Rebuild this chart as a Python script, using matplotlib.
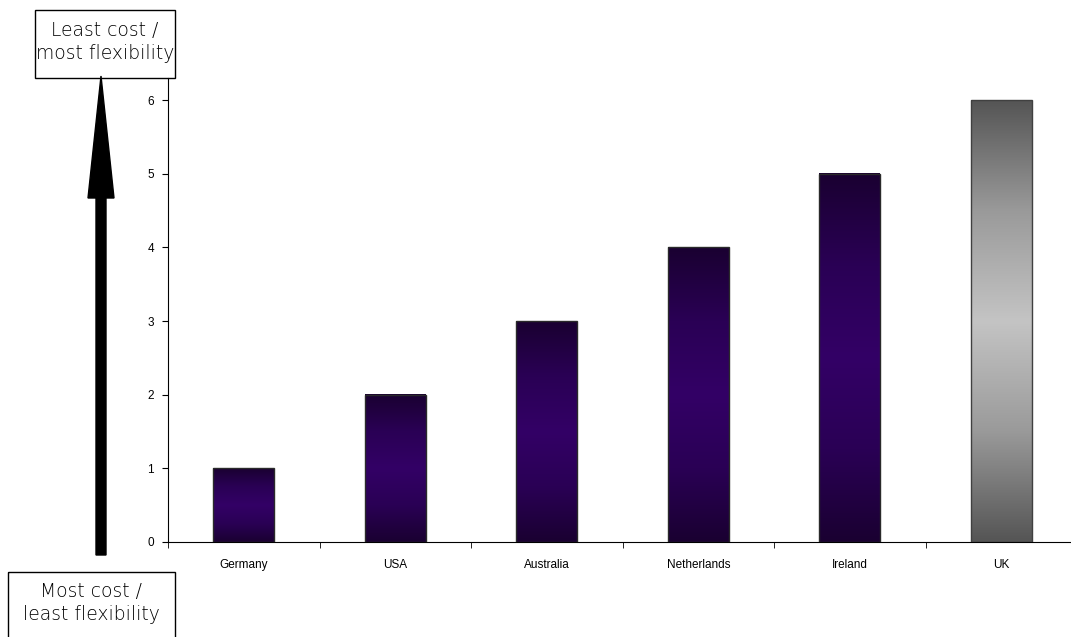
import numpy as np
import matplotlib
matplotlib.use("Agg")
import matplotlib.pyplot as plt
from matplotlib.colors import LinearSegmentedColormap
from matplotlib.patches import Rectangle, Polygon

countries = ["Germany", "USA", "Australia", "Netherlands", "Ireland", "UK"]
scores = [1, 2, 3, 4, 5, 6]
highlight = "UK"
top_label = "Least cost /\nmost flexibility"
bottom_label = "Most cost /\nleast flexibility"

W, H = 1071, 637
fig = plt.figure(figsize=(W / 100, H / 100), dpi=100)
fig.patch.set_facecolor("white")

ax = fig.add_axes([168 / W, (H - 542) / H, (1077 - 168) / W, (542 - 78) / H])
x = np.arange(len(countries))
bars = ax.bar(x, scores, width=0.4, color="none", edgecolor="none", zorder=2)

purple = LinearSegmentedColormap.from_list("p", ["#1a0031", "#2a0055", "#330066", "#2a0055", "#1a0031"])
grey = LinearSegmentedColormap.from_list("g", ["#555555", "#9a9a9a", "#c4c4c4", "#9a9a9a", "#555555"])
grad = np.linspace(0, 1, 256).reshape(-1, 1)

for name, b in zip(countries, bars):
    x0, y0 = b.get_x(), b.get_y()
    w, h = b.get_width(), b.get_height()
    cmap = grey if name == highlight else purple
    ax.imshow(grad, cmap=cmap, aspect="auto", extent=[x0, x0 + w, y0, y0 + h],
              origin="upper", zorder=2, interpolation="bilinear")
    ax.add_patch(Rectangle((x0, y0), w, h, fill=False,
                           edgecolor="#404040" if name == highlight else "#2a2a2a",
                           lw=1.0, zorder=3))

ax.set_xlim(-0.5, len(countries) - 0.5)
ax.set_ylim(0, 6.3)
ax.set_yticks(range(0, 7))
ax.set_xticks(x)
ax.set_xticklabels(countries)
ax.set_xticks(np.arange(-0.5, len(countries), 1.0), minor=True)
ax.tick_params(axis="x", which="major", length=0, pad=12, labelsize=8.5)
ax.tick_params(axis="x", which="minor", length=4, direction="out", color="black")
ax.tick_params(axis="y", length=4, direction="out", labelsize=8.5, pad=6)
for lab in ax.get_xticklabels() + ax.get_yticklabels():
    lab.set_fontfamily("Liberation Sans")
for s in ["top", "right"]:
    ax.spines[s].set_visible(False)
ax.spines["left"].set_linewidth(0.8)
ax.spines["bottom"].set_linewidth(0.8)
ax.set_facecolor("none")

# overlay in pixel coordinates for the arrow and labels
ov = fig.add_axes([0, 0, 1, 1], zorder=5)
ov.set_xlim(0, W)
ov.set_ylim(H, 0)
ov.axis("off")
ov.patch.set_alpha(0)

ov.add_patch(Polygon([(96, 555), (106, 555), (106, 198), (114, 198), (101, 76),
                      (88, 198), (96, 198)], closed=True, color="black"))

ov.add_patch(Rectangle((35, 10), 140, 68, fill=False, edgecolor="black", lw=1.0))
ov.text(105, 42, top_label, ha="center", va="center", fontsize=13.5, color="black",
        family="DejaVu Sans", fontweight="light", linespacing=1.3)
ov.add_patch(Rectangle((8, 572), 167, 80, fill=False, edgecolor="black", lw=1.0))
ov.text(91, 603, bottom_label, ha="center", va="center", fontsize=13.5, color="black",
        family="DejaVu Sans", fontweight="light", linespacing=1.3)

fig.savefig("out.png", dpi=100, facecolor="white")
